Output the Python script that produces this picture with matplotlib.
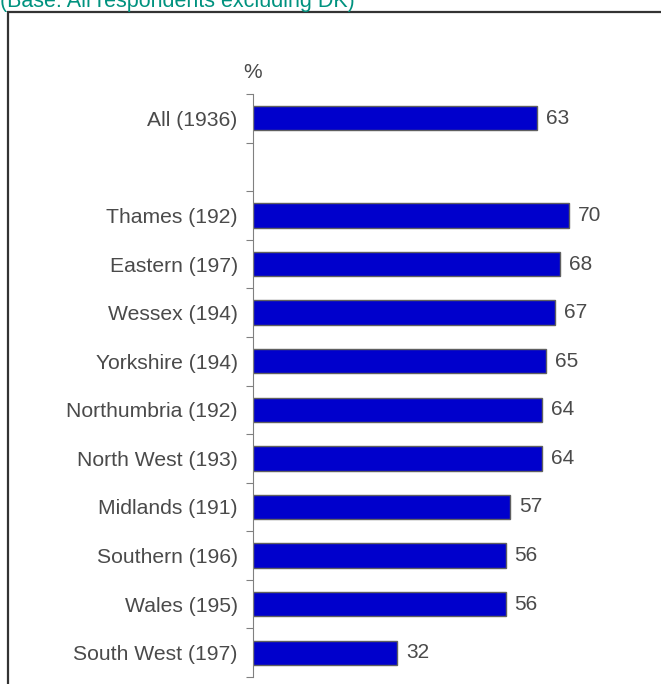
import matplotlib.pyplot as plt
from matplotlib.patches import Rectangle

plt.rcParams['font.family'] = ['Liberation Sans', 'DejaVu Sans']

# data (top to bottom, "" = empty slot)
categories = ["All (1936)", "", "Thames (192)", "Eastern (197)", "Wessex (194)",
              "Yorkshire (194)", "Northumbria (192)", "North West (193)",
              "Midlands (191)", "Southern (196)", "Wales (195)", "South West (197)"]
values = [63, None, 70, 68, 67, 65, 64, 64, 57, 56, 56, 32]

title = "(Base: All respondents excluding DK)"

W, H = 661, 684
fig = plt.figure(figsize=(W / 100, H / 100), dpi=100)

# frame around chart
fig.patches.append(Rectangle((8 / W, -0.1), 1.2, (H - 12) / H + 0.1, transform=fig.transFigure,
                             fill=False, edgecolor='#333333', linewidth=1.6))
fig.text(0, 1 - 7 / H, title, color='#00927F', fontsize=15.5, ha='left', va='baseline')

ax = fig.add_axes([253 / W, 1 - 677 / H, 408 / W, (677 - 94) / H])
ypos = list(range(len(categories)))
for y, v in zip(ypos, values):
    if v is None:
        continue
    ax.barh(y, v, height=0.5, color='#0000CC', edgecolor='#606060', linewidth=1)
    ax.text(v + 2, y, str(v), va='center', ha='left', fontsize=15, color='#4a4a4a')

ax.set_xlim(0, 408 / 4.51)
ax.set_ylim(len(categories) - 0.5, -0.5)
for s in ['top', 'right', 'bottom']:
    ax.spines[s].set_visible(False)
ax.spines['left'].set_color('#808080')
ax.set_xticks([])
ax.set_yticks([i - 0.5 for i in range(len(categories) + 1)])
ax.set_yticklabels([])
ax.tick_params(axis='y', length=5, color='#808080')
ax.set_yticks(ypos, minor=True)
ax.set_yticklabels(categories, minor=True, fontsize=15.2, color='#4a4a4a')
ax.tick_params(axis='y', which='minor', length=0, pad=11)
ax.text(0, -0.75, "%", ha='center', va='bottom', fontsize=15, color='#4a4a4a')

fig.savefig('out.png', dpi=100)
